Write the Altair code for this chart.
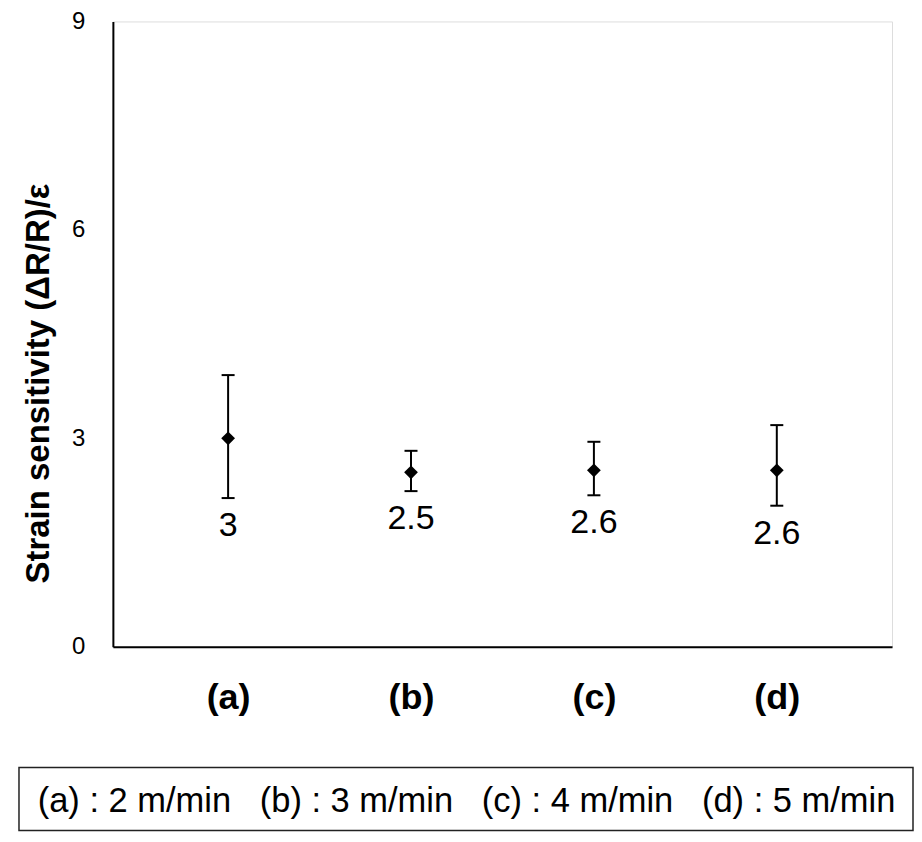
import altair as alt
import pandas as pd

# Data
categories = ["(a)", "(b)", "(c)", "(d)"]
mean_values = [3.0, 2.51, 2.54, 2.54]
upper_values = [3.91, 2.82, 2.95, 3.19]
lower_values = [2.14, 2.24, 2.18, 2.03]
value_labels = ["3", "2.5", "2.6", "2.6"]
y_ticks = [0, 3, 6, 9]
legend_entries = ["(a) : 2 m/min", "(b) : 3 m/min", "(c) : 4 m/min", "(d) : 5 m/min"]

FONT = "Liberation Sans"

df = pd.DataFrame({
    "cat": categories,
    "mean": mean_values,
    "high": upper_values,
    "low": lower_values,
    "label": value_labels,
})

x_enc = alt.X(
    "cat:N",
    sort=categories,
    scale=alt.Scale(type="point", padding=0.63),
    axis=alt.Axis(
        title=None, labelFontSize=36, labelFontWeight="bold", labelAngle=0,
        labelPadding=34, ticks=False, domainColor="black", domainWidth=2,
        labelColor="black", labelFont=FONT,
    ),
)

y_scale = alt.Scale(domain=[0, 9])
y_axis = alt.Axis(
    title="Strain sensitivity (ΔR/R)/ε", values=y_ticks, format="d", grid=False, ticks=False,
    labelFontSize=24, labelColor="black", labelPadding=28, labelFlush=False,
    domainColor="black", domainWidth=2, titleFontSize=33, titleFontWeight="bold",
    titleColor="black", titlePadding=16, titleY=362, labelFont=FONT, titleFont=FONT,
)

base = alt.Chart(df).encode(x=x_enc)

rules = base.mark_rule(color="black", strokeWidth=2).encode(
    y=alt.Y("low:Q", scale=y_scale, axis=y_axis), y2="high:Q"
)
cap_hi = base.mark_tick(color="black", size=13, thickness=2, opacity=1).encode(
    y=alt.Y("high:Q", scale=y_scale)
)
cap_lo = base.mark_tick(color="black", size=13, thickness=2, opacity=1).encode(
    y=alt.Y("low:Q", scale=y_scale)
)
points = base.mark_point(shape="diamond", filled=True, size=190, color="black", opacity=1).encode(
    y=alt.Y("mean:Q", scale=y_scale)
)
texts = base.mark_text(dy=28, fontSize=34, baseline="middle", color="black", font=FONT).encode(
    y=alt.Y("low:Q", scale=y_scale), text="label:N"
)

legend_df = pd.DataFrame({"t": ["\u00a0\u00a0\u00a0".join(legend_entries)]})
legend_box = alt.Chart(legend_df).mark_rect(
    fillOpacity=0, stroke="#222222", strokeWidth=1.5
).encode(x=alt.value(-94), x2=alt.value(801), y=alt.value(747), y2=alt.value(810))
legend_text = alt.Chart(legend_df).mark_text(
    fontSize=34.5, baseline="middle", align="center", color="black", font=FONT
).encode(x=alt.value(354), y=alt.value(781), text="t:N")

chart = alt.layer(rules, cap_hi, cap_lo, points, texts, legend_box, legend_text).properties(
    width=780, height=626,
    padding={"left": 10, "top": 1, "right": 0, "bottom": 0},
).configure_view(stroke="black", strokeWidth=2).configure(font=FONT, background="white")

chart.save("out.html", embed_options={"renderer": "svg", "actions": False})
